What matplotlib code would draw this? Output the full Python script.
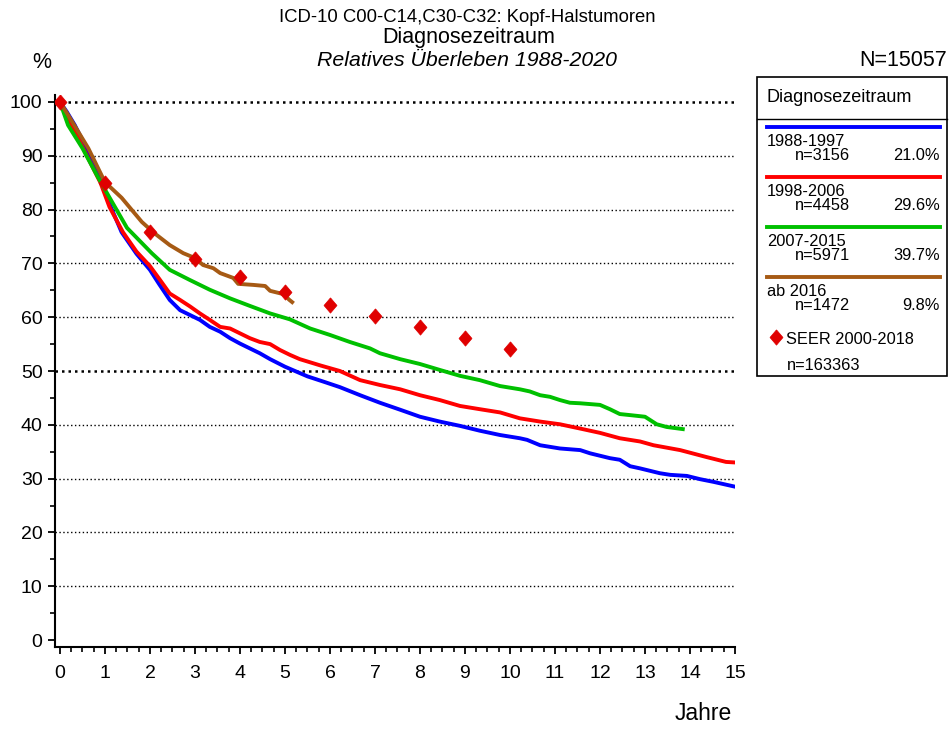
import numpy as np
import matplotlib
matplotlib.use('Agg')
import matplotlib.pyplot as plt
from matplotlib.lines import Line2D
from matplotlib.patches import Rectangle

plt.rcParams['font.family'] = ['Liberation Sans', 'DejaVu Sans']

W, H = 949, 729

# --- data ---
t_blue = [0, 0.15, 0.33, 0.63, 0.89, 1.11, 1.37, 1.7, 2.0, 2.2, 2.44, 2.67, 2.89, 3.11, 3.33,
          3.56, 3.78, 4.0, 4.22, 4.44, 4.67, 5.0, 5.5, 5.9, 6.22, 6.67, 7.11, 7.56, 8.0, 8.44,
          8.89, 9.33, 9.78, 10.22, 10.38, 10.67, 11.11, 11.56, 11.78, 12.22, 12.44, 12.67,
          12.89, 13.33, 13.56, 13.93, 14.22, 14.52, 15.0]
v_blue = [100, 98.2, 95.7, 90.7, 85.9, 80.9, 75.8, 71.8, 68.8, 66.2, 63.2, 61.3, 60.4, 59.5,
          58.2, 57.3, 56.1, 55.1, 54.2, 53.3, 52.2, 50.8, 49.0, 47.9, 47.0, 45.5, 44.1, 42.8,
          41.5, 40.6, 39.8, 38.9, 38.1, 37.5, 37.2, 36.2, 35.6, 35.3, 34.7, 33.8, 33.5, 32.3,
          31.9, 31.0, 30.7, 30.5, 29.9, 29.4, 28.5]

t_red = [0, 0.15, 0.3, 0.6, 0.9, 1.1, 1.4, 1.7, 2.0, 2.2, 2.44, 2.67, 2.89, 3.11, 3.33, 3.56,
         3.78, 4.0, 4.22, 4.44, 4.67, 4.89, 5.11, 5.33, 5.8, 6.22, 6.67, 7.11, 7.56, 8.0, 8.44,
         8.89, 9.33, 9.78, 10.22, 10.67, 11.11, 11.56, 12.0, 12.44, 12.89, 13.19, 13.78,
         14.37, 14.8, 15.0]
v_red = [100, 97.8, 95.0, 90.0, 85.0, 80.5, 75.8, 72.2, 69.5, 67.2, 64.4, 63.2, 62.0, 60.7,
         59.5, 58.2, 57.9, 57.0, 56.1, 55.4, 55.0, 53.9, 53.0, 52.2, 51.0, 50.0, 48.3, 47.4,
         46.6, 45.5, 44.6, 43.5, 42.9, 42.3, 41.2, 40.6, 40.1, 39.3, 38.5, 37.5, 36.9, 36.2,
         35.3, 34.0, 33.1, 33.0]

t_green = [0, 0.18, 0.5, 0.82, 1.07, 1.49, 2.04, 2.44, 2.89, 3.33, 3.78, 4.22, 4.67, 5.11,
           5.56, 6.0, 6.44, 6.89, 7.11, 7.56, 8.0, 8.44, 8.89, 9.33, 9.78, 10.22, 10.44, 10.67,
           10.89, 11.11, 11.33, 11.56, 12.0, 12.22, 12.44, 12.67, 13.0, 13.26, 13.48, 13.84]
v_green = [100, 95.7, 91.4, 86.4, 82.7, 76.6, 71.9, 68.8, 66.9, 65.1, 63.5, 62.1, 60.7, 59.6,
           57.9, 56.7, 55.4, 54.2, 53.3, 52.2, 51.3, 50.2, 49.1, 48.3, 47.2, 46.6, 46.2, 45.5,
           45.2, 44.6, 44.1, 44.0, 43.7, 42.9, 42.0, 41.8, 41.5, 40.1, 39.6, 39.2]

t_brown = [0, 0.18, 0.63, 1.0, 1.37, 1.82, 2.1, 2.44, 2.74, 3.0, 3.18, 3.41, 3.56, 3.85, 3.96,
           4.3, 4.56, 4.67, 4.96, 5.1, 5.16]
v_brown = [100, 97.6, 91.4, 85.1, 82.2, 77.7, 75.6, 73.4, 71.9, 71.0, 69.7, 69.1, 68.2, 67.3,
           66.2, 66.0, 65.8, 64.9, 64.3, 63.2, 62.8]

seer_t = [0, 1, 2, 3, 4, 5, 6, 7, 8, 9, 10]
seer_v = [100, 84.9, 75.8, 70.8, 67.5, 64.7, 62.3, 60.2, 58.2, 56.1, 54.1]

labels = ['1988-1997', '1998-2006', '2007-2015', 'ab 2016']
counts = ['n=3156', 'n=4458', 'n=5971', 'n=1472']
shares = ['21.0%', '29.6%', '39.7%', '9.8%']
colors = ['#0000FF', '#FF0000', '#00C000', '#A65A14']
seer_color = '#E00000'
diamond = [(0, 1), (0.85, 0), (0, -1), (-0.85, 0), (0, 1)]


def fx(x):
    return x / W


def fy(y):
    return 1 - y / H


fig = plt.figure(figsize=(W / 100, H / 100), dpi=100)
ax = fig.add_axes([fx(55), fy(647), fx(735) - fx(55), fy(95) - fy(647)])
ax.set_xlim(-0.11, 15)
ax.set_ylim(-1.3, 101.3)

# gridlines
for g in range(10, 101, 10):
    lw = 1.8 if g in (50, 100) else 1.0
    ln, = ax.plot([-0.11, 15], [g, g], color='black', lw=lw, zorder=1)
    ln.set_dashes([1.0, 1.6] if g in (50, 100) else [1.0, 1.8])

for t, v, c in zip([t_blue, t_red, t_green, t_brown], [v_blue, v_red, v_green, v_brown], colors):
    ax.plot(t, v, color=c, lw=2.8, zorder=3, solid_joinstyle='round')

ax.plot(seer_t, seer_v, linestyle='none', marker=diamond, ms=11, color=seer_color,
        mec=seer_color, mew=0.5, zorder=4)

for s in ['top', 'right']:
    ax.spines[s].set_visible(False)
for s in ['left', 'bottom']:
    ax.spines[s].set_linewidth(1.5)

ax.set_xticks(range(0, 16))
ax.set_xticks(np.arange(0, 15.01, 0.25), minor=True)
ax.set_yticks(range(0, 101, 10))
ax.set_yticks(range(5, 100, 10), minor=True)
ax.tick_params(axis='both', which='major', direction='out', length=5, width=1.3,
               labelsize=14, pad=8)
ax.tick_params(axis='both', which='minor', direction='out', length=3.5, width=1.2)
ax.tick_params(axis='y', pad=4)

# titles and axis texts
fig.text(fx(467), fy(18), 'ICD-10 C00-C14,C30-C32: Kopf-Halstumoren', ha='center', va='center',
         fontsize=13.3)
fig.text(fx(469), fy(38), 'Diagnosezeitraum', ha='center', va='center', fontsize=15.5)
fig.text(fx(467), fy(60), 'Relatives Überleben 1988-2020', ha='center', va='center',
         fontsize=15.3, style='italic')
fig.text(fx(947), fy(61), 'N=15057', ha='right', va='center', fontsize=15.5)
fig.text(fx(42), fy(62), '%', ha='center', va='center', fontsize=15.5)
fig.text(fx(703), fy(714), 'Jahre', ha='center', va='center', fontsize=16.5)

# legend box
fig.add_artist(Rectangle((fx(757), fy(376)), fx(947) - fx(757), fy(77) - fy(376),
                         transform=fig.transFigure, fill=False, lw=1.2, ec='black'))
fig.add_artist(Line2D([fx(757), fx(947)], [fy(119), fy(119)], transform=fig.transFigure,
                      color='black', lw=1.0))
fig.text(fx(766), fy(97), 'Diagnosezeitraum', ha='left', va='center', fontsize=13)

for i, (lab, n, p, c) in enumerate(zip(labels, counts, shares, colors)):
    y0 = 127 + 50 * i
    fig.add_artist(Line2D([fx(767), fx(940)], [fy(y0), fy(y0)], transform=fig.transFigure,
                          color=c, lw=2.8))
    fig.text(fx(767), fy(y0 + 14), lab, ha='left', va='center', fontsize=11.8)
    fig.text(fx(795), fy(y0 + 29), n, ha='left', va='center', fontsize=11.8)
    fig.text(fx(940), fy(y0 + 29), p, ha='right', va='center', fontsize=11.8)

fig.add_artist(Line2D([fx(776)], [fy(337)], transform=fig.transFigure, linestyle='none',
                      marker=diamond, ms=11, color=seer_color, mec=seer_color, mew=0.5))
fig.text(fx(786), fy(340), 'SEER 2000-2018', ha='left', va='center', fontsize=11.8)
fig.text(fx(787), fy(365), 'n=163363', ha='left', va='center', fontsize=11.8)

fig.savefig('out.png', dpi=100)
